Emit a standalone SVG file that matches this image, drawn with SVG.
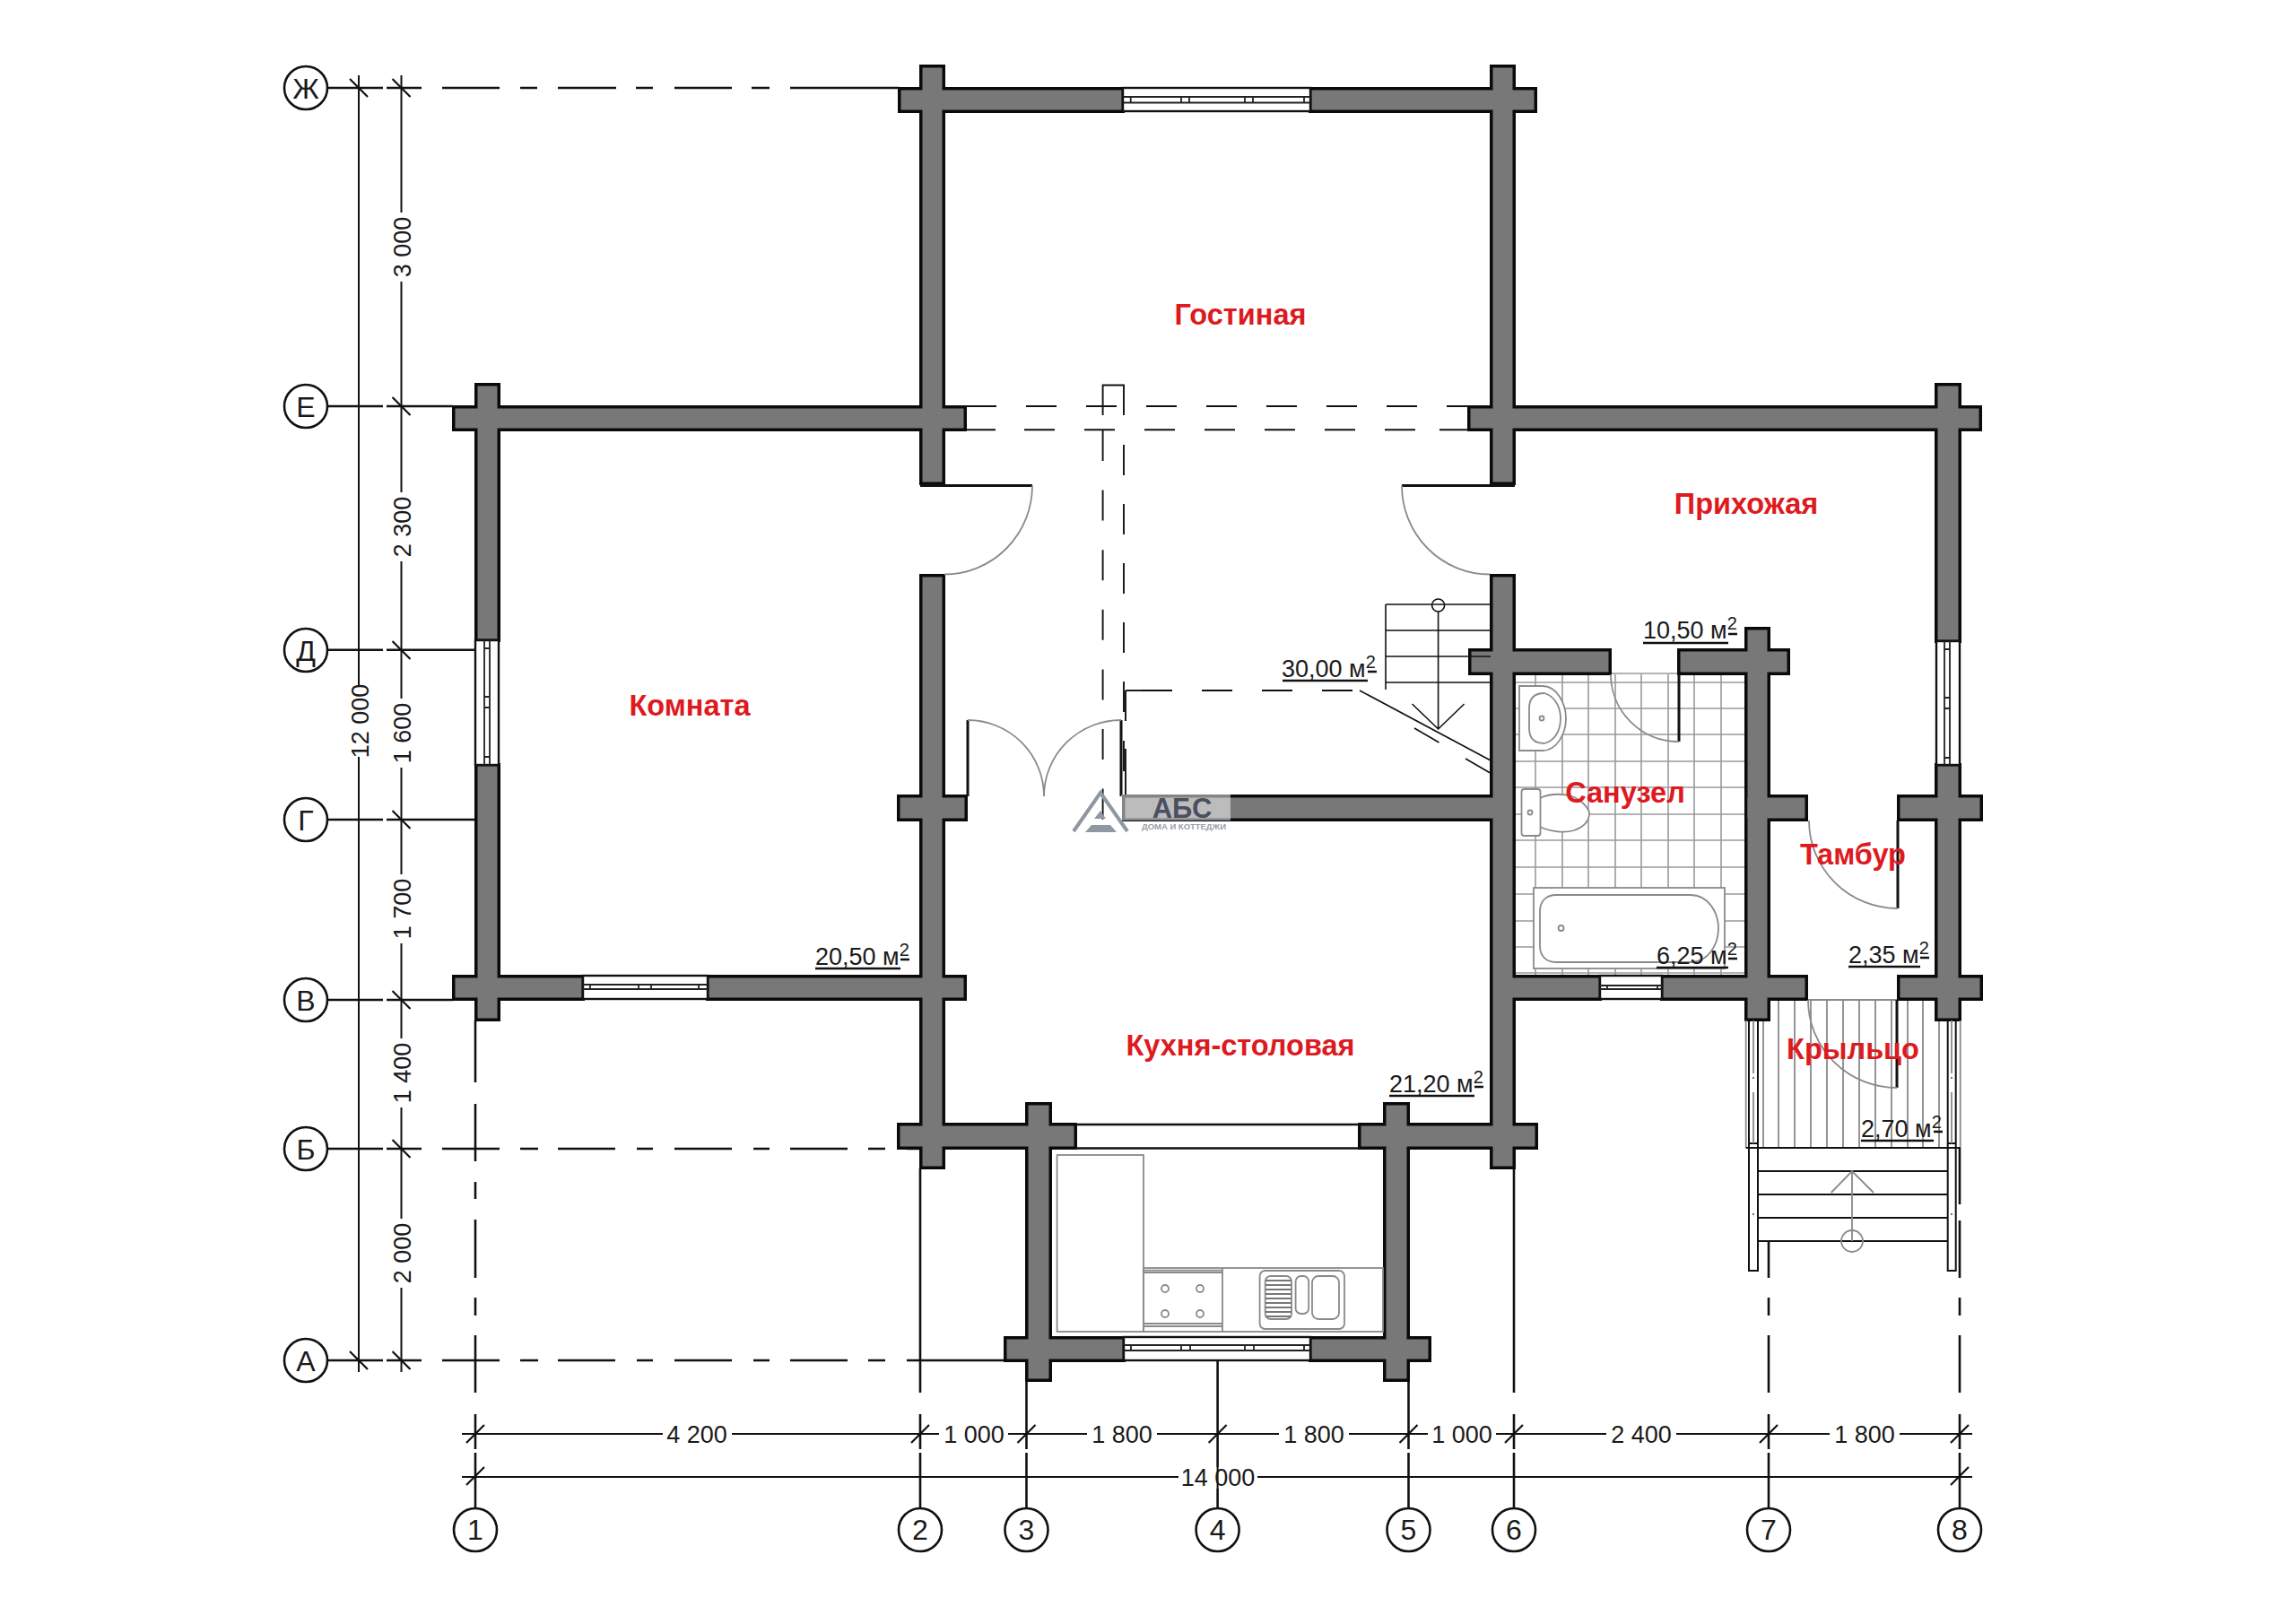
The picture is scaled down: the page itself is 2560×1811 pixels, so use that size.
<svg xmlns="http://www.w3.org/2000/svg" xmlns:xlink="http://www.w3.org/1999/xlink" width="2560" height="1811" viewBox="0 0 2560 1811">
<style>
text{font-family:"Liberation Sans",Arial,sans-serif}
.ax{fill:none;stroke:#111;stroke-width:2.6}
.dim{fill:none;stroke:#111;stroke-width:2}
.dt{font-size:27px;text-anchor:middle;fill:#1a1a1a}
.gn{font-size:32px;text-anchor:middle;fill:#1a1a1a}
.bub{fill:#fff;stroke:#111;stroke-width:2.6}
.gap{fill:#fff}
.room{font-size:32.5px;font-weight:bold;fill:#dd1a1f;text-anchor:middle}
.area{font-size:27px;fill:#1a1a1a}
.sup{font-size:20px}
.ul{stroke:#111;stroke-width:2.6}
.thin{fill:none;stroke:#111;stroke-width:1.6}
.gr{fill:none;stroke:#8a8a8a;stroke-width:1.8}
.grw{fill:#fff;stroke:#8a8a8a;stroke-width:1.8}
.leaf{fill:none;stroke:#111;stroke-width:3}
.dash{fill:none;stroke:#111;stroke-width:1.9;stroke-dasharray:34 33}
.win{fill:#fff;stroke:#111;stroke-width:2.4}
.winl{fill:none;stroke:#222;stroke-width:1.8}
.wb{fill:#0a0a0a;stroke:#0a0a0a;stroke-width:4}
.wg{fill:#787878}
</style>
<rect width="2560" height="1811" fill="#fff"/>

<g id="bath-tiles" class="gr" style="stroke:#9a9a9a;stroke-width:1.6">
<path d="M1712 752V1088M1742 752V1088M1771 752V1088M1801 752V1088M1830 752V1088M1860 752V1088M1889 752V1088M1919 752V1088"/>
<path d="M1688 761H1946M1688 790H1946M1688 819H1946M1688 849H1946M1688 878H1946M1688 908H1946M1688 937H1946M1688 967H1946M1688 997H1946M1688 1027H1946M1688 1056H1946M1688 1085H1946M1796 751H1872"/>
</g>

<g id="porch-floor" class="gr">
<path d="M1966 1115V1280M1983 1115V1280M2001 1115V1280M2019 1115V1280M2037 1115V1280M2055 1115V1280M2073 1115V1280M2091 1115V1280M2109 1115V1280M2127 1115V1280M2144 1115V1280M2162 1115V1280M2016 1115H2116"/>
</g>

<g id="grid-lines">
<path class="ax" d="M365 98H427M431 98H470M493 98H557M580 98H599M622 98H687M709 98H728M752 98H816M838 98H858M881 98H1002"/>
<path class="ax" d="M365 453H427M431 453H505"/>
<path class="ax" d="M365 724.8H427M431 724.8H530"/>
<path class="ax" d="M365 914H427M431 914H530"/>
<path class="ax" d="M365 1115H427M431 1115H505"/>
<path class="ax" d="M365 1281H427M431 1281H470M493 1281H557M580 1281H600M622 1281H686M710 1281H728M752 1281H816M840 1281H858M881 1281H945M968 1281H987M1011 1281H1025"/>
<path class="ax" d="M365 1517H427M431 1517H470M493 1517H557M580 1517H600M622 1517H686M710 1517H728M752 1517H816M840 1517H858M881 1517H945M968 1517H987M1011 1517H1120"/>
<path class="ax" d="M530 1138V1207M530 1231V1295M530 1318V1337M530 1360V1425M530 1447V1467M530 1489V1553M530 1577V1616M530 1620V1682"/>
<path class="ax" d="M1026 1303V1553M1026 1577V1616M1026 1620V1682"/>
<path class="ax" d="M1144.5 1540V1616M1144.5 1620V1682"/>
<path class="ax" d="M1357.6 1517V1682"/>
<path class="ax" d="M1570.5 1540V1616M1570.5 1620V1682"/>
<path class="ax" d="M1688 1303V1553M1688 1577V1616M1688 1620V1682"/>
<path class="ax" d="M1972 1384V1425M1972 1447V1467M1972 1489V1553M1972 1577V1616M1972 1620V1682"/>
<path class="ax" d="M2185 1280V1343M2185 1361V1425M2185 1447V1467M2185 1489V1553M2185 1577V1616M2185 1620V1682"/>
</g>

<g id="walls">
<g class="wb">
<rect x="1003" y="99" width="249" height="25"/>
<rect x="1461" y="99" width="251" height="25"/>
<rect x="1027" y="74" width="25" height="465"/>
<rect x="1663" y="74" width="25" height="465"/>
<rect x="506" y="454" width="570" height="25"/>
<rect x="1638" y="454" width="570" height="25"/>
<rect x="531" y="429" width="25" height="285"/>
<rect x="531" y="853" width="25" height="284"/>
<rect x="2159" y="429" width="26" height="286"/>
<rect x="2159" y="853" width="26" height="284"/>
<rect x="506" y="1089" width="144" height="25"/>
<rect x="789" y="1089" width="287" height="25"/>
<rect x="1027" y="642" width="25" height="660"/>
<rect x="1663" y="642" width="25" height="660"/>
<rect x="1002" y="888" width="75" height="26"/>
<rect x="1253" y="888" width="417" height="26"/>
<rect x="1002" y="1254" width="197" height="26"/>
<rect x="1516" y="1254" width="197" height="26"/>
<rect x="1145" y="1231" width="26" height="308"/>
<rect x="1544" y="1231" width="26" height="308"/>
<rect x="1121" y="1492" width="132" height="25"/>
<rect x="1461" y="1492" width="133" height="25"/>
<rect x="1639" y="725" width="156" height="26"/>
<rect x="1872" y="725" width="122" height="26"/>
<rect x="1947" y="701" width="25" height="436"/>
<rect x="1947" y="888" width="67" height="26"/>
<rect x="2117" y="888" width="92" height="26"/>
<rect x="1670" y="1089" width="114" height="25"/>
<rect x="1853" y="1089" width="161" height="25"/>
<rect x="2117" y="1089" width="92" height="25"/>
</g>
<g class="wg">
<rect x="1004.5" y="100.5" width="246" height="22"/>
<rect x="1462.5" y="100.5" width="248" height="22"/>
<rect x="1028.5" y="75.5" width="22" height="462"/>
<rect x="1664.5" y="75.5" width="22" height="462"/>
<rect x="507.5" y="455.5" width="567" height="22"/>
<rect x="1639.5" y="455.5" width="567" height="22"/>
<rect x="532.5" y="430.5" width="22" height="282"/>
<rect x="532.5" y="854.5" width="22" height="281"/>
<rect x="2160.5" y="430.5" width="23" height="283"/>
<rect x="2160.5" y="854.5" width="23" height="281"/>
<rect x="507.5" y="1090.5" width="141" height="22"/>
<rect x="790.5" y="1090.5" width="284" height="22"/>
<rect x="1028.5" y="643.5" width="22" height="657"/>
<rect x="1664.5" y="643.5" width="22" height="657"/>
<rect x="1003.5" y="889.5" width="72" height="23"/>
<rect x="1254.5" y="889.5" width="414" height="23"/>
<rect x="1003.5" y="1255.5" width="194" height="23"/>
<rect x="1517.5" y="1255.5" width="194" height="23"/>
<rect x="1146.5" y="1232.5" width="23" height="305"/>
<rect x="1545.5" y="1232.5" width="23" height="305"/>
<rect x="1122.5" y="1493.5" width="129" height="22"/>
<rect x="1462.5" y="1493.5" width="130" height="22"/>
<rect x="1640.5" y="726.5" width="153" height="23"/>
<rect x="1873.5" y="726.5" width="119" height="23"/>
<rect x="1948.5" y="702.5" width="22" height="433"/>
<rect x="1948.5" y="889.5" width="64" height="23"/>
<rect x="2118.5" y="889.5" width="89" height="23"/>
<rect x="1671.5" y="1090.5" width="111" height="22"/>
<rect x="1854.5" y="1090.5" width="158" height="22"/>
<rect x="2118.5" y="1090.5" width="89" height="22"/>
</g>
</g>

<g id="openings">
<path d="M1199 1254H1516M1199 1280.5H1516" class="thin" style="stroke-width:2.4"/>
</g>

<g id="windows">
<g id="win-top"><rect class="win" x="1252" y="98" width="209" height="26"/><path class="winl" d="M1253 108H1461M1253 114.5H1461M1260.7 108V114.5M1317 108V114.5M1326 108V114.5M1388 108V114.5M1397 108V114.5M1454 108V114.5"/></g>
<g id="win-bottom"><rect class="win" x="1253" y="1491" width="208" height="26"/><path class="winl" d="M1253 1500H1461M1253 1506H1461M1261 1500V1506M1317 1500V1506M1327 1500V1506M1388 1500V1506M1398 1500V1506M1454 1500V1506"/></g>
<g id="win-left-bottom"><rect class="win" x="650" y="1088" width="139" height="26"/><path class="winl" d="M650 1098H789M650 1103H789M658 1098V1103M712 1098V1103M726 1098V1103M779 1098V1103"/></g>
<g id="win-left"><rect class="win" x="530" y="714" width="26" height="139"/><path class="winl" d="M540 714V853M546 714V853M540 723H546M540 777H546M540 789H546M540 844H546"/></g>
<g id="win-right"><rect class="win" x="2159" y="715" width="26" height="138"/><path class="winl" d="M2168 715V853M2174 715V853M2168 724H2174M2168 778H2174M2168 790H2174M2168 845H2174"/></g>
<g id="win-bath"><rect class="win" x="1784" y="1088" width="69" height="26"/><path class="winl" d="M1784 1099H1853M1784 1103H1853M1792 1099V1103M1848 1099V1103"/></g>
</g>

<g id="doors">
<path class="leaf" d="M1026 541.5H1151"/><path class="gr" d="M1151 541.5A98 99 0 0 1 1053 640.5"/>
<path class="leaf" d="M1689 541.5H1563"/><path class="gr" d="M1563 541.5A98 99 0 0 0 1661 640.5"/>
<path class="leaf" d="M1079 803V888"/><path class="gr" d="M1079 803A85 85 0 0 1 1164 888"/>
<path class="leaf" d="M1250 803V888"/><path class="gr" d="M1250 803A86 85 0 0 0 1164 888"/>
<path class="leaf" d="M1872 752V827"/><path class="gr" d="M1872 827A76 75 0 0 1 1796 752"/>
<path class="leaf" d="M2116 915V1013"/><path class="gr" d="M2116 1013A99 98 0 0 1 2017 915"/>
<path class="leaf" d="M2115 1115V1213"/><path class="gr" d="M2115 1213A99 98 0 0 1 2016 1115"/>
</g>

<g id="dashed-lines">
<path class="dash" d="M1077 453H1638"/>
<path class="dash" d="M1142 479.3H1605"/>
<path class="dash" style="stroke-dasharray:none" d="M1077 479.3H1110M1605 479.3H1638"/>
<path class="dash" style="stroke-dasharray:none" d="M1229.6 463V429.5H1253V463"/>
<path class="dash" style="stroke-dasharray:34 32.6" d="M1229.6 480V913H1250"/>
<path class="dash" style="stroke-dasharray:34 32" d="M1253 496V887"/>
<path class="dash" style="stroke-dasharray:52 31 34 0" d="M1255 887V770"/>
<path class="dash" style="stroke-dashoffset:-18;stroke-dasharray:34 33" d="M1255 770H1516"/>
<path class="dash" style="stroke-dasharray:none" d="M1255 770H1274"/>
</g>

<g id="stairs" class="thin">
<path d="M1545 674H1662M1545 703H1662M1545 732H1662M1545 761H1662M1545 674V769"/>
<path d="M1516 770L1662 848M1577 812L1604.5 828M1634 846L1661.6 862"/>
<circle cx="1603.6" cy="675" r="7"/>
<path d="M1603.6 682V813M1574.5 785L1603.6 813L1632.6 785"/>
</g>

<g id="sink" class="gr">
<path class="grw" d="M1694 765H1720C1736 765 1746 785 1746 801C1746 818 1736 837 1720 837H1694Z"/>
<path d="M1705 790C1705 778 1712 773 1722 773C1733 776 1740 788 1740 801C1740 816 1733 826 1722 829C1712 829 1705 825 1705 812Z"/>
<circle cx="1719" cy="801" r="2.5"/>
</g>
<g id="toilet" class="gr">
<path class="grw" d="M1717 890C1730 884 1745 885 1755 889C1766 894 1772 903 1772 907C1772 915 1766 922 1755 926C1745 929 1730 928 1717 922Z"/>
<rect class="grw" x="1696.5" y="880" width="21" height="52" rx="3"/>
<circle cx="1706" cy="906" r="2.5"/>
</g>
<g id="bath" class="gr">
<rect class="grw" x="1710" y="990" width="213" height="90"/>
<path d="M1735 998H1885C1905 998 1916 1018 1916 1035C1916 1053 1905 1073 1885 1073H1735C1724 1073 1717 1066 1717 1055V1016C1717 1005 1724 998 1735 998Z"/>
<circle cx="1740.6" cy="1035" r="3"/>
</g>

<g id="kitchen" class="gr">
<rect x="1178.6" y="1288" width="96.4" height="197"/>
<rect x="1275" y="1414" width="267" height="71"/>
<path d="M1363 1414V1485M1275 1416.7H1363M1275 1419H1363M1275 1476H1363M1275 1479H1363"/>
<circle cx="1299" cy="1437" r="4"/><circle cx="1338" cy="1437" r="4"/><circle cx="1299" cy="1465" r="4"/><circle cx="1338" cy="1465" r="4"/>
<rect x="1404.6" y="1417" width="94.4" height="65" rx="6"/>
<rect x="1410.7" y="1423" width="29.3" height="48" rx="6"/>
<path d="M1411 1428H1440M1411 1433H1440M1411 1438H1440M1411 1443H1440M1411 1448H1440M1411 1453H1440M1411 1458H1440M1411 1463H1440M1411 1468H1440" style="stroke-width:2.2;stroke:#777"/>
<rect x="1444.6" y="1423" width="14.6" height="42" rx="6"/>
<rect x="1463" y="1423" width="30" height="48" rx="7"/>
</g>

<g id="porch">
<path class="gr" d="M1946.7 1138V1280M2185.7 1138V1280"/>
<path class="thin" style="stroke-width:2" d="M1950 1138V1417H1960V1138M2171.7 1138V1417H2180.7V1138M1950 1280H1960M1950 1275H1960M2171.7 1280H2180.7M2171.7 1275H2180.7M1946.7 1280H2185.7"/>
<path class="gr" d="M1955 1138V1197M1955 1218V1275M2176 1138V1197M2176 1218V1275"/>
<circle cx="1955" cy="1202" r="1" fill="#444"/><circle cx="2176" cy="1202" r="1" fill="#444"/><circle cx="1955" cy="1354" r="1" fill="#444"/><circle cx="2176" cy="1354" r="1" fill="#444"/>
<path class="thin" style="stroke-width:2" d="M1960 1306H2171.7M1960 1332H2171.7M1960 1358H2171.7M1960 1384H2171.7"/>
<path class="gr" d="M2065 1306V1384M2041.7 1330L2065 1306L2089 1330"/>
<circle class="gr" cx="2065" cy="1384" r="12"/>
</g>

<g id="dimensions">
<path class="dim" d="M400 84V1530M447.5 84V1530M515 1599H2199M515 1647H2199"/>
<rect class="gap" x="390" y="764" width="24" height="80"/>
<rect class="gap" x="436" y="237" width="24" height="77"/>
<rect class="gap" x="436" y="549" width="24" height="77"/>
<rect class="gap" x="436" y="779" width="24" height="77"/>
<rect class="gap" x="436" y="975" width="24" height="77"/>
<rect class="gap" x="436" y="1158" width="24" height="77"/>
<rect class="gap" x="436" y="1359" width="24" height="77"/>
<rect class="gap" x="739" y="1588" width="77" height="24"/>
<rect class="gap" x="1047" y="1588" width="77" height="24"/>
<rect class="gap" x="1212" y="1588" width="78" height="24"/>
<rect class="gap" x="1426" y="1588" width="78" height="24"/>
<rect class="gap" x="1592" y="1588" width="76" height="24"/>
<rect class="gap" x="1791" y="1588" width="78" height="24"/>
<rect class="gap" x="2040" y="1588" width="78" height="24"/>
<rect class="gap" x="1314" y="1636" width="88" height="24"/>
<path class="dim" d="M1357.6 1636V1660"/>
<path class="ul" style="stroke-width:2.2" d="M390 88L410 108M390 1507L410 1527M437.5 88L457.5 108M437.5 443L457.5 463M437.5 715L457.5 735M437.5 904L457.5 924M437.5 1105L457.5 1125M437.5 1271L457.5 1291M437.5 1507L457.5 1527"/>
<path class="ul" style="stroke-width:2.2" d="M520 1609L540 1589M1016 1609L1036 1589M1134.5 1609L1154.5 1589M1347.6 1609L1367.6 1589M1560.5 1609L1580.5 1589M1678 1609L1698 1589M1962 1609L1982 1589M2175 1609L2195 1589M520 1656L540 1636M2175 1656L2195 1636"/>
<text class="dt" x="401" y="813.5" transform="rotate(-90 401 804)">12 000</text>
<text class="dt" x="448" y="285" transform="rotate(-90 448 275.5)">3 000</text>
<text class="dt" x="448" y="597" transform="rotate(-90 448 587.5)">2 300</text>
<text class="dt" x="448" y="827" transform="rotate(-90 448 817.5)">1 600</text>
<text class="dt" x="448" y="1023" transform="rotate(-90 448 1013.5)">1 700</text>
<text class="dt" x="448" y="1206" transform="rotate(-90 448 1196.5)">1 400</text>
<text class="dt" x="448" y="1407" transform="rotate(-90 448 1397.5)">2 000</text>
<text class="dt" x="777" y="1609">4 200</text>
<text class="dt" x="1086" y="1609">1 000</text>
<text class="dt" x="1251" y="1609">1 800</text>
<text class="dt" x="1465" y="1609">1 800</text>
<text class="dt" x="1630" y="1609">1 000</text>
<text class="dt" x="1830" y="1609">2 400</text>
<text class="dt" x="2079" y="1609">1 800</text>
<text class="dt" x="1358" y="1657">14 000</text>
</g>

<g id="axis-labels">
<g id="axis-Zh"><circle class="bub" cx="341" cy="98" r="24"/><text class="gn" x="341" y="110">Ж</text></g>
<g id="axis-E"><circle class="bub" cx="341" cy="453" r="24"/><text class="gn" x="341" y="465">Е</text></g>
<g id="axis-D"><circle class="bub" cx="341" cy="725" r="24"/><text class="gn" x="341" y="737">Д</text></g>
<g id="axis-G"><circle class="bub" cx="341" cy="914" r="24"/><text class="gn" x="341" y="926">Г</text></g>
<g id="axis-V"><circle class="bub" cx="341" cy="1115" r="24"/><text class="gn" x="341" y="1127">В</text></g>
<g id="axis-B"><circle class="bub" cx="341" cy="1281" r="24"/><text class="gn" x="341" y="1293">Б</text></g>
<g id="axis-A"><circle class="bub" cx="341" cy="1517" r="24"/><text class="gn" x="341" y="1529">А</text></g>
<g id="axis-1"><circle class="bub" cx="530" cy="1706" r="24"/><text class="gn" x="530" y="1717">1</text></g>
<g id="axis-2"><circle class="bub" cx="1026" cy="1706" r="24"/><text class="gn" x="1026" y="1717">2</text></g>
<g id="axis-3"><circle class="bub" cx="1144.5" cy="1706" r="24"/><text class="gn" x="1144.5" y="1717">3</text></g>
<g id="axis-4"><circle class="bub" cx="1357.6" cy="1706" r="24"/><text class="gn" x="1357.6" y="1717">4</text></g>
<g id="axis-5"><circle class="bub" cx="1570.5" cy="1706" r="24"/><text class="gn" x="1570.5" y="1717">5</text></g>
<g id="axis-6"><circle class="bub" cx="1688" cy="1706" r="24"/><text class="gn" x="1688" y="1717">6</text></g>
<g id="axis-7"><circle class="bub" cx="1972" cy="1706" r="24"/><text class="gn" x="1972" y="1717">7</text></g>
<g id="axis-8"><circle class="bub" cx="2185" cy="1706" r="24"/><text class="gn" x="2185" y="1717">8</text></g>
</g>

<g id="room-names">
<text class="room" x="1383" y="362">Гостиная</text>
<text class="room" x="1947" y="573">Прихожая</text>
<text class="room" x="769" y="798">Комната</text>
<text class="room" x="1812" y="895">Санузел</text>
<text class="room" x="2066" y="964">Тамбур</text>
<text class="room" x="2066" y="1181">Крыльцо</text>
<text class="room" x="1383" y="1177">Кухня-столовая</text>
</g>

<g id="areas">
<text class="area" x="1832" y="712">10,50 м<tspan class="sup" dy="-10">2</tspan></text><path class="ul" d="M1832 717H1927M1927 707H1937"/>
<text class="area" x="1429" y="755">30,00 м<tspan class="sup" dy="-10">2</tspan></text><path class="ul" d="M1430 759H1525M1525 749H1535"/>
<text class="area" x="909" y="1076">20,50 м<tspan class="sup" dy="-10">2</tspan></text><path class="ul" d="M909 1080H1004M1004 1070H1014"/>
<text class="area" x="1847" y="1075">6,25 м<tspan class="sup" dy="-10">2</tspan></text><path class="ul" d="M1847 1079H1927M1927 1069H1937"/>
<text class="area" x="2061" y="1074">2,35 м<tspan class="sup" dy="-10">2</tspan></text><path class="ul" d="M2061 1078H2141M2141 1068H2151"/>
<text class="area" x="2075" y="1268">2,70 м<tspan class="sup" dy="-10">2</tspan></text><path class="ul" d="M2075 1272H2156M2156 1262H2166"/>
<text class="area" x="1549" y="1218">21,20 м<tspan class="sup" dy="-10">2</tspan></text><path class="ul" d="M1549 1222H1644M1644 1212H1654"/>
</g>

<g id="watermark">
<rect x="1250" y="886" width="122" height="29" fill="#fff" fill-opacity=".5"/>
<path d="M1197 927L1227 884L1257 927" fill="none" stroke="#8f97a3" stroke-width="4"/>
<path d="M1220 913L1227 904L1233 913ZM1210 928L1217 920L1238 920L1245 928Z" fill="#8f97a3"/>
<text x="1318" y="912" font-size="31" font-weight="bold" text-anchor="middle" fill="#4a5060">АБС</text>
<text x="1320" y="925" font-size="9.5" font-weight="bold" text-anchor="middle" fill="#9aa0aa" textLength="94">ДОМА И КОТТЕДЖИ</text>
</g>
</svg>
